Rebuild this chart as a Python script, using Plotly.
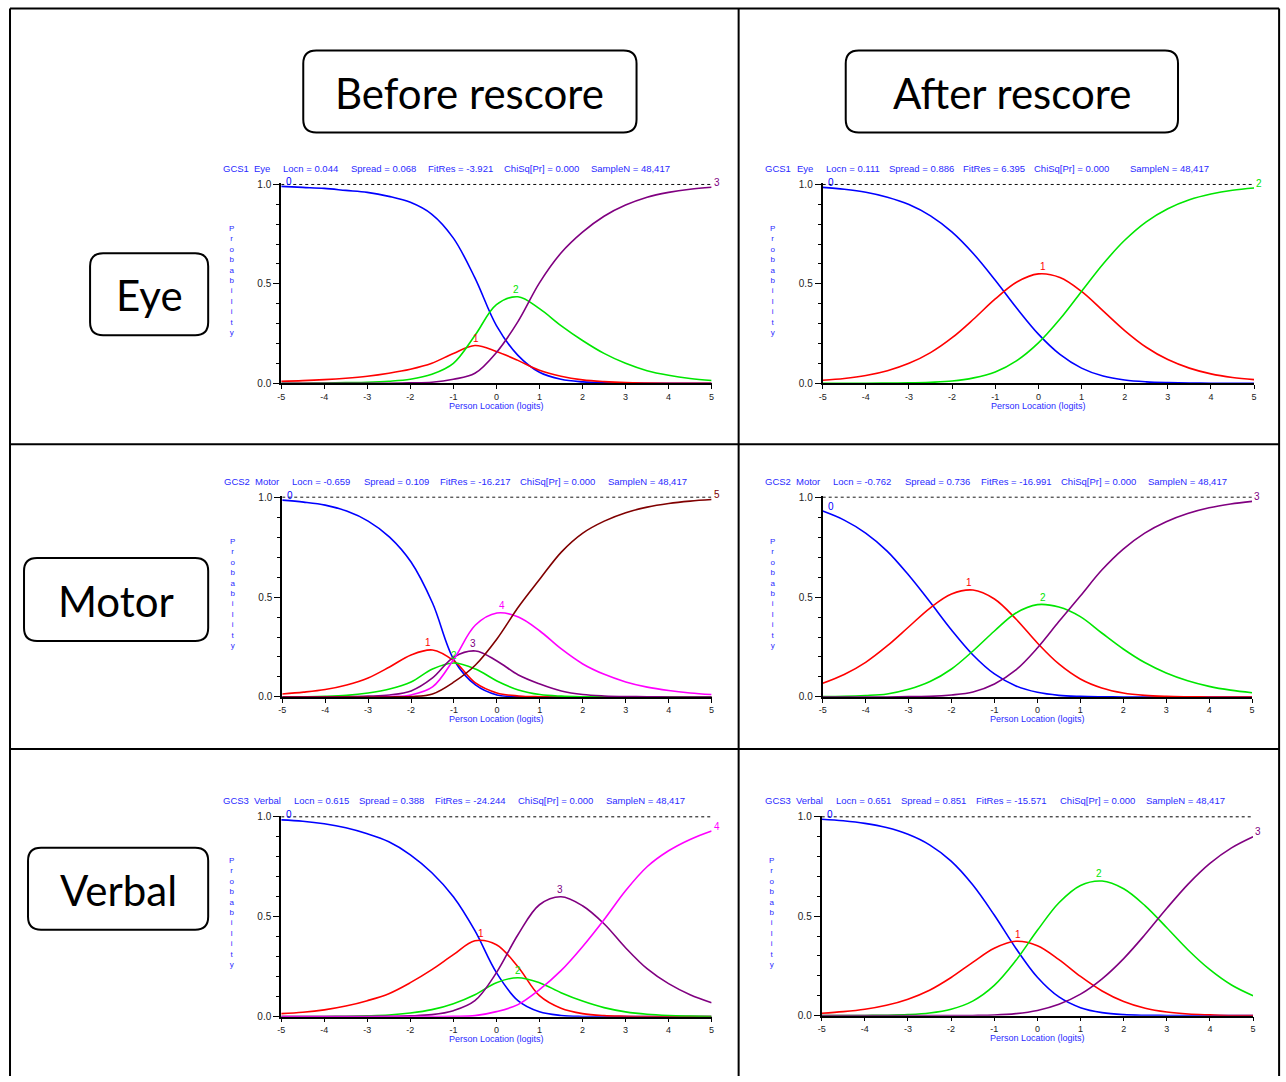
import plotly.graph_objects as go

W, H = 1286, 1082

# ---------------- data ----------------
logits = [-5.0, -4.5, -4.0, -3.5, -3.0, -2.5, -2.0, -1.5, -1.0, -0.5, 0.0,
          0.5, 1.0, 1.5, 2.0, 2.5, 3.0, 3.5, 4.0, 4.5, 5.0]
x_tick_vals = [-5, -4, -3, -2, -1, 0, 1, 2, 3, 4, 5]
x_tick_text = ["-5", "-4", "-3", "-2", "-1", "0", "1", "2", "3", "4", "5"]
y_tick_vals = [0.0, 0.5, 1.0]
y_tick_text = ["0.0", "0.5", "1.0"]

# Eye, before rescore (categories 0-3)
eye_before_0 = [0.99, 0.985, 0.98, 0.97, 0.96, 0.94, 0.91, 0.85, 0.73, 0.53, 0.29, 0.14, 0.055, 0.02, 0.007, 0.002, 0.001, 0, 0, 0, 0]
eye_before_1 = [0.01, 0.013, 0.018, 0.025, 0.035, 0.05, 0.07, 0.10, 0.15, 0.19, 0.16, 0.115, 0.065, 0.035, 0.017, 0.008, 0.003, 0.001, 0, 0, 0]
eye_before_2 = [0, 0, 0.001, 0.003, 0.005, 0.01, 0.02, 0.045, 0.10, 0.24, 0.395, 0.435, 0.375, 0.29, 0.215, 0.15, 0.10, 0.063, 0.04, 0.024, 0.014]
eye_before_3 = [0, 0, 0, 0, 0, 0, 0.002, 0.005, 0.02, 0.05, 0.155, 0.31, 0.505, 0.655, 0.76, 0.84, 0.896, 0.936, 0.96, 0.976, 0.986]

# Eye, after rescore (categories 0-2)
eye_after_0 = [0.985, 0.976, 0.961, 0.936, 0.899, 0.842, 0.76, 0.65, 0.518, 0.377, 0.247, 0.145, 0.076, 0.036, 0.016, 0.007, 0.003, 0.001, 0, 0, 0]
eye_after_1 = [0.015, 0.024, 0.039, 0.063, 0.10, 0.154, 0.229, 0.323, 0.424, 0.509, 0.55, 0.532, 0.462, 0.364, 0.265, 0.181, 0.119, 0.076, 0.047, 0.029, 0.018]
eye_after_2 = [0, 0, 0, 0.001, 0.002, 0.005, 0.011, 0.027, 0.057, 0.114, 0.203, 0.323, 0.462, 0.60, 0.719, 0.812, 0.878, 0.923, 0.952, 0.971, 0.982]

# Motor, before rescore (categories 0-5)
motor_before_0 = [0.985, 0.975, 0.96, 0.93, 0.88, 0.80, 0.675, 0.47, 0.185, 0.06, 0.01, 0.002, 0, 0, 0, 0, 0, 0, 0, 0, 0]
motor_before_1 = [0.015, 0.024, 0.037, 0.06, 0.095, 0.15, 0.21, 0.235, 0.18, 0.07, 0.02, 0.005, 0.001, 0, 0, 0, 0, 0, 0, 0, 0]
motor_before_2 = [0, 0.001, 0.003, 0.008, 0.02, 0.04, 0.075, 0.14, 0.17, 0.14, 0.08, 0.035, 0.012, 0.004, 0.001, 0, 0, 0, 0, 0, 0]
motor_before_3 = [0, 0, 0, 0.001, 0.004, 0.01, 0.03, 0.095, 0.20, 0.23, 0.18, 0.11, 0.065, 0.03, 0.012, 0.005, 0.002, 0.001, 0, 0, 0]
motor_before_4 = [0, 0, 0, 0, 0, 0.002, 0.01, 0.05, 0.19, 0.36, 0.42, 0.40, 0.33, 0.24, 0.165, 0.113, 0.075, 0.049, 0.032, 0.02, 0.012]
motor_before_5 = [0, 0, 0, 0, 0, 0, 0.002, 0.015, 0.075, 0.16, 0.29, 0.45, 0.59, 0.725, 0.82, 0.88, 0.922, 0.95, 0.968, 0.98, 0.988]

# Motor, after rescore (categories 0-3)
motor_after_0 = [0.93, 0.885, 0.82, 0.73, 0.61, 0.475, 0.335, 0.21, 0.115, 0.055, 0.023, 0.008, 0.003, 0.001, 0, 0, 0, 0, 0, 0, 0]
motor_after_1 = [0.068, 0.112, 0.173, 0.255, 0.35, 0.445, 0.515, 0.535, 0.49, 0.39, 0.27, 0.165, 0.09, 0.045, 0.02, 0.008, 0.003, 0.001, 0, 0, 0]
motor_after_2 = [0.002, 0.003, 0.007, 0.015, 0.038, 0.077, 0.14, 0.23, 0.33, 0.42, 0.462, 0.45, 0.402, 0.32, 0.24, 0.172, 0.12, 0.081, 0.053, 0.034, 0.021]
motor_after_3 = [0, 0, 0, 0, 0.002, 0.003, 0.01, 0.025, 0.065, 0.135, 0.245, 0.377, 0.505, 0.635, 0.74, 0.82, 0.877, 0.918, 0.947, 0.966, 0.979]

# Verbal, before rescore (categories 0-4)
verbal_before_0 = [0.985, 0.978, 0.965, 0.945, 0.915, 0.875, 0.81, 0.72, 0.60, 0.43, 0.22, 0.08, 0.024, 0.006, 0.001, 0, 0, 0, 0, 0, 0]
verbal_before_1 = [0.015, 0.022, 0.034, 0.053, 0.08, 0.115, 0.17, 0.235, 0.31, 0.38, 0.36, 0.25, 0.105, 0.042, 0.015, 0.005, 0.002, 0, 0, 0, 0]
verbal_before_2 = [0, 0, 0.001, 0.002, 0.004, 0.008, 0.018, 0.035, 0.065, 0.11, 0.17, 0.195, 0.17, 0.12, 0.078, 0.045, 0.024, 0.012, 0.006, 0.003, 0.001]
verbal_before_3 = [0, 0, 0, 0, 0.001, 0.002, 0.004, 0.01, 0.03, 0.08, 0.22, 0.41, 0.56, 0.60, 0.555, 0.465, 0.345, 0.24, 0.165, 0.11, 0.07]
verbal_before_4 = [0, 0, 0, 0, 0, 0, 0, 0, 0.002, 0.005, 0.025, 0.06, 0.135, 0.23, 0.35, 0.485, 0.63, 0.75, 0.83, 0.887, 0.929]

# Verbal, after rescore (categories 0-3)
verbal_after_0 = [0.988, 0.98, 0.967, 0.946, 0.912, 0.859, 0.777, 0.658, 0.506, 0.339, 0.193, 0.094, 0.04, 0.015, 0.005, 0.002, 0.001, 0, 0, 0, 0]
verbal_after_1 = [0.012, 0.02, 0.032, 0.052, 0.083, 0.128, 0.192, 0.268, 0.339, 0.374, 0.352, 0.282, 0.197, 0.124, 0.071, 0.037, 0.018, 0.008, 0.004, 0.001, 0.001]
verbal_after_2 = [0, 0, 0.001, 0.002, 0.005, 0.013, 0.032, 0.073, 0.152, 0.277, 0.429, 0.568, 0.655, 0.677, 0.638, 0.552, 0.442, 0.329, 0.231, 0.154, 0.10]
verbal_after_3 = [0, 0, 0, 0, 0, 0, 0, 0.001, 0.003, 0.01, 0.026, 0.057, 0.108, 0.185, 0.287, 0.409, 0.54, 0.663, 0.766, 0.844, 0.90]

header_fields_eye_before = ["GCS1", "Eye", "Locn = 0.044", "Spread = 0.068", "FitRes = -3.921", "ChiSq[Pr] = 0.000", "SampleN = 48,417"]
header_fields_eye_after = ["GCS1", "Eye", "Locn = 0.111", "Spread = 0.886", "FitRes = 6.395", "ChiSq[Pr] = 0.000", "SampleN = 48,417"]
header_fields_motor_before = ["GCS2", "Motor", "Locn = -0.659", "Spread = 0.109", "FitRes = -16.217", "ChiSq[Pr] = 0.000", "SampleN = 48,417"]
header_fields_motor_after = ["GCS2", "Motor", "Locn = -0.762", "Spread = 0.736", "FitRes = -16.991", "ChiSq[Pr] = 0.000", "SampleN = 48,417"]
header_fields_verbal_before = ["GCS3", "Verbal", "Locn = 0.615", "Spread = 0.388", "FitRes = -24.244", "ChiSq[Pr] = 0.000", "SampleN = 48,417"]
header_fields_verbal_after = ["GCS3", "Verbal", "Locn = 0.651", "Spread = 0.851", "FitRes = -15.571", "ChiSq[Pr] = 0.000", "SampleN = 48,417"]

column_labels = ["Before rescore", "After rescore"]
row_labels = ["Eye", "Motor", "Verbal"]

# ---------------- styling / layout ----------------
cat_colors = ["#0000ff", "#ff0000", "#00e600", "#800080", "#ff00ff", "#800000"]
TXT_BLUE = "#2a2aff"
SMALL_FONT = "Liberation Sans"
BIG_FONT = "Lato"

# the photographed page shows a slight offset/scale; layout targets are given in
# picture pixels and mapped back to page pixels here
OX, SX = 4.0, 0.9937
OY, SY = 3.4, 0.9917


def page_x(v):
    return (v - OX) / SX


def page_y(v):
    return (v - OY) / SY


panels = [
    dict(curves=[eye_before_0, eye_before_1, eye_before_2, eye_before_3],
         box=(281, 184, 711, 383), hy=168, fields=header_fields_eye_before,
         fx=[221, 252, 281, 349, 426, 502, 588], lab_x=231),
    dict(curves=[eye_after_0, eye_after_1, eye_after_2],
         box=(822, 184, 1253, 383), hy=168, fields=header_fields_eye_after,
         fx=[762, 794, 823, 886, 960, 1031, 1127], lab_x=772),
    dict(curves=[motor_before_0, motor_before_1, motor_before_2, motor_before_3, motor_before_4, motor_before_5],
         box=(282, 497, 711, 697), hy=481, fields=header_fields_motor_before,
         fx=[222, 253, 290, 362, 438, 518, 605], lab_x=232),
    dict(curves=[motor_after_0, motor_after_1, motor_after_2, motor_after_3],
         box=(822, 497, 1251, 697), hy=481, fields=header_fields_motor_after,
         fx=[762, 793, 830, 902, 978, 1058, 1145], lab_x=772),
    dict(curves=[verbal_before_0, verbal_before_1, verbal_before_2, verbal_before_3, verbal_before_4],
         box=(281, 817, 711, 1017), hy=801, fields=header_fields_verbal_before,
         fx=[221, 252, 292, 357, 433, 516, 603], lab_x=231),
    dict(curves=[verbal_after_0, verbal_after_1, verbal_after_2, verbal_after_3],
         box=(821, 817, 1252, 1016), hy=801, fields=header_fields_verbal_after,
         fx=[762, 793, 833, 898, 973, 1057, 1143], lab_x=771),
]

YTOP = 1.005

fig = go.Figure()
layout = dict(width=W, height=H, margin=dict(l=0, r=0, t=0, b=0),
              paper_bgcolor="white", plot_bgcolor="rgba(0,0,0,0)",
              showlegend=False, annotations=[], shapes=[])

# overlay axis expressed in picture pixels, for the table, boxes and free text
layout["xaxis7"] = dict(domain=[0, 1], range=[OX, OX + SX * W], visible=False, anchor="y7", fixedrange=True)
layout["yaxis7"] = dict(domain=[0, 1], range=[OY + SY * H, OY], visible=False, anchor="x7", fixedrange=True)
fig.add_trace(go.Scatter(x=[None], y=[None], xaxis="x7", yaxis="y7", hoverinfo="skip"))

ann = layout["annotations"]

for i, p in enumerate(panels, 1):
    xa, ya = f"x{i}", f"y{i}"
    l, t, r, b = p["box"]
    pl, pr, pt, pb = page_x(l), page_x(r), page_y(t), page_y(b)
    top_px = pb - (pb - pt) * YTOP
    layout[f"xaxis{i}"] = dict(
        domain=[pl / W, pr / W], range=[-5, 5], anchor=ya,
        tickvals=x_tick_vals, ticktext=x_tick_text, ticks="outside", ticklen=4,
        tickcolor="black", tickwidth=1, showline=True, linecolor="black", linewidth=1.5,
        showgrid=False, zeroline=False, fixedrange=True,
        tickfont=dict(family=SMALL_FONT, size=9, color="#222"))
    layout[f"yaxis{i}"] = dict(
        domain=[1 - pb / H, 1 - top_px / H], range=[0, YTOP], anchor=xa,
        tickvals=y_tick_vals, ticktext=y_tick_text, ticks="outside", ticklen=6,
        tickcolor="black", tickwidth=1, showline=True, linecolor="black", linewidth=2,
        minor=dict(tickvals=[0.1, 0.2, 0.3, 0.4, 0.6, 0.7, 0.8, 0.9], ticks="outside",
                   ticklen=3, tickcolor="black", tickwidth=1),
        showgrid=False, zeroline=False, fixedrange=True,
        tickfont=dict(family=SMALL_FONT, size=10, color="#222"))

    # dotted reference line at probability 1.0
    fig.add_trace(go.Scatter(x=[-5, 5], y=[1.0, 1.0], xaxis=xa, yaxis=ya, mode="lines",
                             line=dict(color="black", width=1, dash="dot"), hoverinfo="skip"))
    ncat = len(p["curves"])
    for k, ys in enumerate(p["curves"]):
        col = cat_colors[k]
        fig.add_trace(go.Scatter(x=logits, y=ys, xaxis=xa, yaxis=ya, mode="lines",
                                 line=dict(color=col, width=1.6, shape="spline", smoothing=1.0),
                                 hoverinfo="skip"))
        # category number label
        if k == 0:
            lx, ly, xs, ysft, xan = logits[0], ys[0], 3, 5, "left"
        elif k == ncat - 1:
            lx, ly, xs, ysft, xan = logits[-1], ys[-1], 0, 5, "left"
        else:
            j = max(range(len(ys)), key=lambda q: ys[q])
            y0, y1, y2 = ys[j - 1], ys[j], ys[j + 1]
            den = y0 - 2 * y1 + y2
            step = logits[j + 1] - logits[j]
            off = step * (y0 - y2) / (2 * den) if den != 0 else 0.0
            lx = logits[j] + off
            ly = y1 - (y2 - y0) ** 2 / (8 * den) if den != 0 else y1
            xs, ysft, xan = 0, 7, "center"
        ann.append(dict(x=lx, y=ly, xref=xa, yref=ya, text=str(k), showarrow=False,
                        xanchor=xan, yanchor="middle", xshift=xs, yshift=ysft,
                        font=dict(family=SMALL_FONT, size=10, color=col)))

    # header fields
    for txt, fx in zip(p["fields"], p["fx"]):
        ann.append(dict(x=fx, y=p["hy"], xref="x7", yref="y7", text=txt, showarrow=False,
                        xanchor="left", yanchor="middle",
                        font=dict(family=SMALL_FONT, size=9.5, color=TXT_BLUE)))
    # vertical "Probability"
    ann.append(dict(x=p["lab_x"], y=t + 96, xref="x7", yref="y7",
                    text="<br>".join(list("Probability")), showarrow=False,
                    xanchor="center", yanchor="middle",
                    font=dict(family=SMALL_FONT, size=8, color=TXT_BLUE)))
    # x axis title
    ann.append(dict(x=(l + r) / 2, y=b + 22.5, xref="x7", yref="y7",
                    text="Person Location (logits)", showarrow=False,
                    xanchor="center", yanchor="middle",
                    font=dict(family=SMALL_FONT, size=9, color=TXT_BLUE)))

# table grid lines
grid = [
    (10, 8, 1278, 8), (10, 8, 10, 1090), (1278, 8, 1278, 1090),
    (738, 8, 738, 1090), (10, 444, 1278, 444), (10, 749, 1278, 749),
]
for x0, y0, x1, y1 in grid:
    layout["shapes"].append(dict(type="line", xref="x7", yref="y7", x0=x0, y0=y0, x1=x1, y1=y1,
                                 line=dict(color="black", width=2)))


def rounded_box(x0, y0, x1, y1, rad):
    return (f"M {x0 + rad},{y0} L {x1 - rad},{y0} Q {x1},{y0} {x1},{y0 + rad} "
            f"L {x1},{y1 - rad} Q {x1},{y1} {x1 - rad},{y1} L {x0 + rad},{y1} "
            f"Q {x0},{y1} {x0},{y1 - rad} L {x0},{y0 + rad} Q {x0},{y0} {x0 + rad},{y0} Z")


label_boxes = [
    (column_labels[0], 303, 50, 636, 132),
    (column_labels[1], 845, 50, 1177, 132),
    (row_labels[0], 90, 253, 208, 335),
    (row_labels[1], 24, 558, 208, 641),
    (row_labels[2], 28, 848, 208, 930),
]
for txt, x0, y0, x1, y1 in label_boxes:
    layout["shapes"].append(dict(type="path", xref="x7", yref="y7",
                                 path=rounded_box(x0, y0, x1, y1, 13),
                                 line=dict(color="black", width=2), fillcolor="white"))
    ann.append(dict(x=(x0 + x1) / 2, y=(y0 + y1) / 2 + 1, xref="x7", yref="y7", text=txt,
                    showarrow=False, xanchor="center", yanchor="middle",
                    font=dict(family=BIG_FONT, size=42, color="black")))

fig.update_layout(**layout)

post = ("document.documentElement.style.margin='0';document.documentElement.style.padding='0';"
        "document.body.style.margin='0';document.body.style.padding='0';"
        "document.body.style.overflow='hidden';document.documentElement.style.overflow='hidden';"
        "var gd=document.getElementById('{plot_id}');gd.style.position='fixed';"
        "gd.style.left='0px';gd.style.top='0px';window.scrollTo(0,0);")
fig.write_html("out.html", config={"displayModeBar": False}, post_script=post)
